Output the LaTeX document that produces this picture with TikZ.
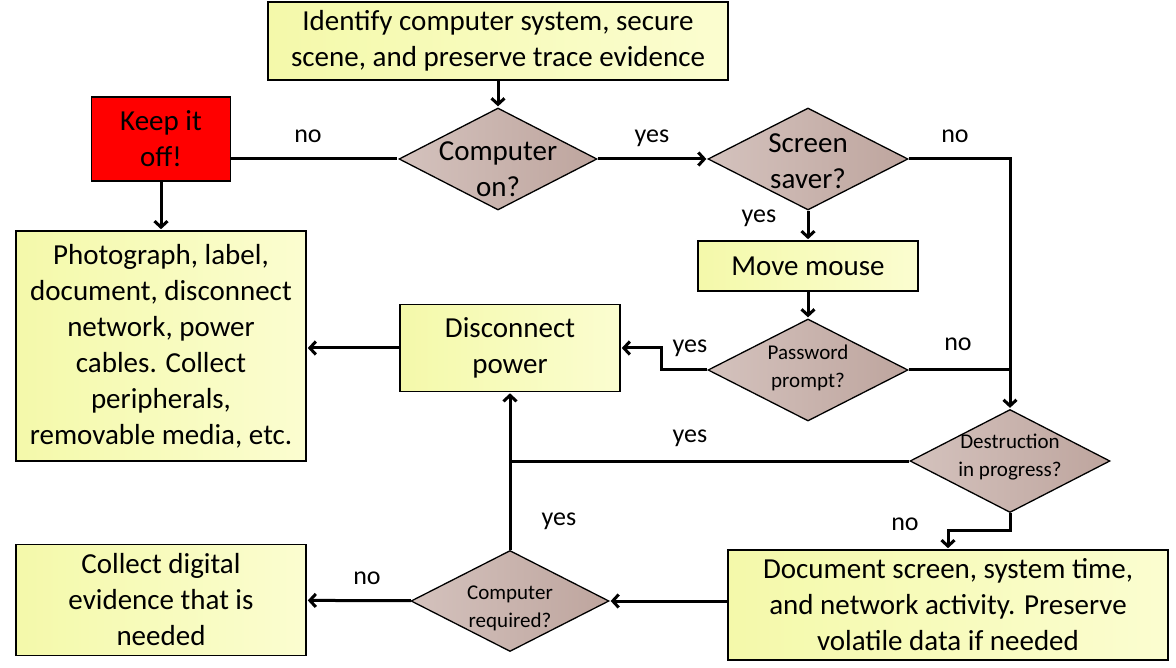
\documentclass[tikz,border=0pt]{standalone}
\usepackage{fontspec}
\setmainfont{Carlito}
\usetikzlibrary{shapes.geometric,arrows.meta}
\definecolor{boxyellow}{RGB}{244,249,170}
\definecolor{boxyellowlight}{RGB}{251,253,208}
\definecolor{decisionrose}{RGB}{190,165,158}
\definecolor{decisionroselight}{RGB}{212,194,189}
\definecolor{keepred}{RGB}{255,0,0}

\begin{document}
\begin{tikzpicture}[x=1pt,y=-1pt,shorten >=1pt,->,>={Straight Barb[length=6pt,width=13pt]}]
  \tikzstyle{process}=[rectangle, draw=black, line width=1.6pt, left color=boxyellow,
right color=boxyellowlight, align=center, inner sep=0pt,
font=\fontsize{29}{36}\selectfont]
  \tikzstyle{decision}=[diamond, draw=black, line width=1.3pt, left color=decisionroselight,
right color=decisionrose, inner sep=0pt]
  \tikzstyle{bigq}=[align=center, font=\fontsize{29}{36}\selectfont]
  \tikzstyle{smallq}=[align=center, font=\fontsize{21}{28}\selectfont]
  \tikzstyle{answer}=[font=\fontsize{26}{30}\selectfont]
  \tikzstyle{flow}=[line width=3pt]
  \useasboundingbox (0,0) rectangle (1176,668);

  \node[process, minimum width=460, minimum height=78] (B_top) at (498,41)
    {Identify computer system, secure\\scene, and preserve trace evidence};
  \node[process, fill=keepred, left color=keepred, right color=keepred,
    minimum width=139, minimum height=84] (B_keep) at (161,139) {Keep it\\off!};
  \node[process, minimum width=290, minimum height=230] (B_photo) at (161,346)
    {Photograph, label,\\document, disconnect\\network, power\\cables. Collect\\peripherals,\\removable media, etc.};
  \node[decision, minimum width=198, minimum height=102,
    label={[bigq, yshift=-10pt]center:Computer\\on?}] (D_on) at (498,159) {};
  \node[decision, minimum width=200, minimum height=102,
    label={[bigq, yshift=-2pt]center:Screen\\saver?}] (D_saver) at (808,159) {};
  \node[process, minimum width=220, minimum height=50] (B_mouse) at (808,266) {Move mouse};
  \node[decision, minimum width=200, minimum height=102,
    label={[smallq, yshift=2pt]center:Password\\prompt?}] (D_pass) at (808,370) {};
  \node[process, minimum width=220, minimum height=87] (B_power) at (510,348) {Disconnect\\power};
  \node[decision, minimum width=200, minimum height=103,
    label={[smallq, yshift=4pt]center:Destruction\\in progress?}] (D_destr) at (1010,461) {};
  \node[process, minimum width=440, minimum height=110] (B_doc) at (948,605)
    {Document screen, system time,\\and network activity. Preserve\\volatile data if needed};
  \node[decision, minimum width=198, minimum height=101,
    label={[smallq, yshift=-7pt]center:Computer\\required?}] (D_req) at (510,601) {};
  \node[process, minimum width=290, minimum height=111] (B_collect) at (161,600)
    {Collect digital\\evidence that is\\needed};

  \node[answer] (A_on_no) at (308,136) {no};
  \node[answer] (A_on_yes) at (652,138) {yes};
  \node[answer] (A_saver_no) at (955,136) {no};
  \node[answer] (A_saver_yes) at (759,218) {yes};
  \node[answer] (A_pass_yes) at (690,348) {yes};
  \node[answer] (A_pass_no) at (958,344) {no};
  \node[answer] (A_destr_yes) at (690,438) {yes};
  \node[answer] (A_destr_no) at (905,524) {no};
  \node[answer] (A_req_yes) at (559,521) {yes};
  \node[answer] (A_req_no) at (367,578) {no};

  \draw[flow] (B_top) -- (D_on);
  \draw[flow,-] (B_keep.east |- D_on.west) -- (D_on.west);
  \draw[flow] (B_keep) -- (B_photo);
  \draw[flow] (D_on) -- (D_saver);
  \draw[flow] (D_saver.east) -| (D_destr.north);
  \draw[flow] (D_saver) -- (B_mouse);
  \draw[flow] (B_mouse) -- (D_pass);
  \draw[flow,-] (D_pass.east) -- (D_pass.east -| D_destr.north);
  \draw[flow] (D_pass.west) -- ++(-46,0) |- (B_power.east);
  \draw[flow] (B_power.west) -- (B_photo.east |- B_power.west);
  \draw[flow,-] (D_destr.west) -- (D_destr.west -| B_power.south);
  \draw[flow] (D_req) -- (B_power);
  \draw[flow] (D_destr.south) -- ++(0,17) -| (B_doc.north);
  \draw[flow] (B_doc.west |- D_req.east) -- (D_req.east);
  \draw[flow] (D_req) -- (B_collect);
\end{tikzpicture}
\end{document}
